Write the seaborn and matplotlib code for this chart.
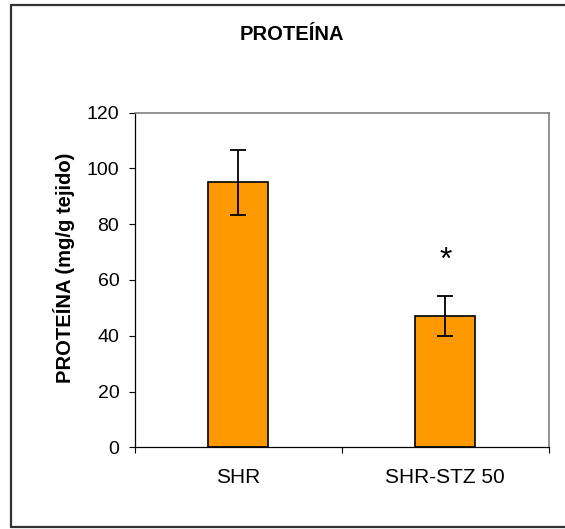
import matplotlib
matplotlib.use("Agg")
import matplotlib.pyplot as plt
from matplotlib.lines import Line2D
import seaborn as sns
import pandas as pd

# Protein content per group (mean and error)
groups = ["SHR", "SHR-STZ 50"]
protein_mean = [95.0, 47.1]
protein_err = [11.7, 7.2]
significance = ["", "*"]
y_ticks = [0, 20, 40, 60, 80, 100, 120]

df = pd.DataFrame({"grupo": groups, "proteina": protein_mean})

sns.set_theme(style="white")
plt.rcParams["font.family"] = ["Liberation Sans", "DejaVu Sans"]
plt.rcParams.update({
    "text.color": "black",
    "axes.labelcolor": "black",
    "xtick.color": "black",
    "ytick.color": "black",
    "xtick.labelcolor": "black",
    "ytick.labelcolor": "black",
})

fig = plt.figure(figsize=(5.65, 5.29), dpi=100)
ax = fig.add_axes([135 / 565, 1 - 447.3 / 529, 413.7 / 565, 334.6 / 529])

sns.barplot(data=df, x="grupo", y="proteina", color="#FF9900", saturation=1,
            width=0.29, errorbar=None, edgecolor="black", linewidth=1.2, ax=ax)

ax.errorbar(range(len(groups)), protein_mean, yerr=protein_err, fmt="none",
            ecolor="black", elinewidth=1.3, capsize=5.8, capthick=1.3, zorder=5)

for i, (m, e, s) in enumerate(zip(protein_mean, protein_err, significance)):
    if s:
        ax.text(i, m + e + 12.5, s, ha="center", va="center", fontsize=23,
                color="black")

ax.set_xlim(-0.5, 1.5)
ax.set_ylim(0, 120)
ax.set_yticks(y_ticks)
ax.tick_params(axis="y", which="major", direction="out", length=4.3, width=0.8,
               pad=7, labelsize=14, left=True, colors="black")
ax.set_xticks([-0.5, 0.5, 1.5], minor=True)
ax.tick_params(axis="x", which="minor", direction="out", length=4.3, width=0.8,
               bottom=True, color="black")
ax.tick_params(axis="x", which="major", length=0, pad=15, labelsize=15,
               labelcolor="black")

ax.set_xlabel("")
ax.set_ylabel("PROTEÍNA (mg/g tejido)", fontsize=14.5, fontweight="bold",
              color="black")
ax.yaxis.set_label_coords(-0.145, 0.537)

for side in ["left", "bottom"]:
    ax.spines[side].set_color("black")
    ax.spines[side].set_linewidth(0.9)
for side in ["top", "right"]:
    ax.spines[side].set_visible(True)
    ax.spines[side].set_color("#808080")
    ax.spines[side].set_linewidth(1.2)

fig.text(292 / 565, 1 - 34 / 529, "PROTEÍNA", ha="center", va="center",
         fontsize=14.5, fontweight="bold", color="black")

# outer chart frame
W, H = 565, 529
frame_kw = dict(color="#333333", linewidth=1.6, transform=fig.transFigure)
fig.add_artist(Line2D([11 / W, 11 / W], [1 - 5 / H, 1 - 527.3 / H], **frame_kw))
fig.add_artist(Line2D([11 / W, 1.0], [1 - 5 / H, 1 - 5 / H], **frame_kw))
fig.add_artist(Line2D([11 / W, 1.0], [1 - 527.3 / H, 1 - 527.3 / H], **frame_kw))

fig.savefig("out.png", dpi=100)
